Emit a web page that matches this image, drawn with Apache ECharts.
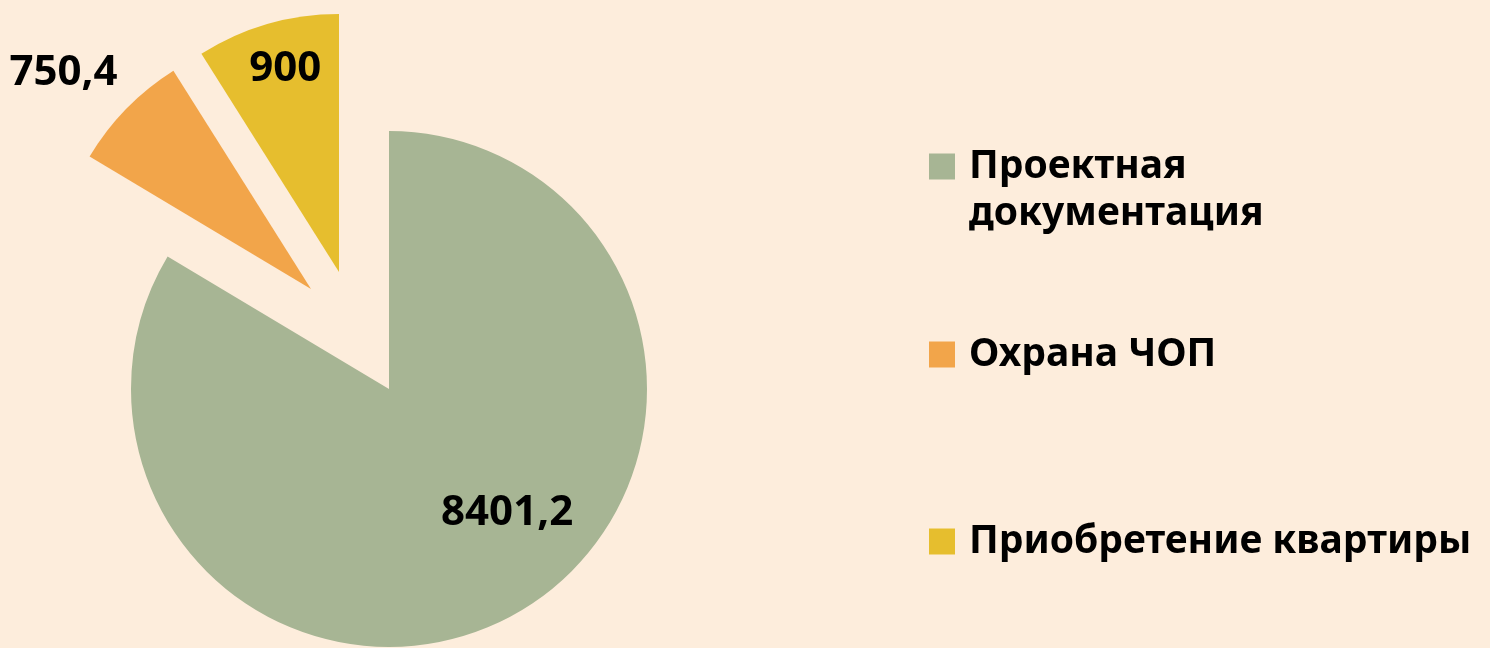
<!DOCTYPE html>
<html>
<head>
<meta charset="utf-8">
<title>ECharts</title>
<script src="https://cdn.jsdelivr.net/npm/echarts@6/dist/echarts.min.js"></script>
<style>
  html, body { margin: 0; padding: 0; background: #FDEDDC; }
</style>
</head>
<body>
	<div id="main" style="width: 1490px; height: 648px;"></div>
	<script type="text/javascript">
		// данные диаграммы
		var names = ['Проектная документация', 'Охрана ЧОП', 'Приобретение квартиры'];
		var values = [8401.2, 750.4, 900];
		var valueLabels = ['8401,2', '750,4', '900'];
		var colors = ['#A7B594', '#F2A54A', '#E6BE2E'];

		var FONT = '"Noto Sans", sans-serif';

		// каждая серия рисует один сектор (остальные прозрачные), чтобы "выдвинуть" сектора как в Excel
		function pieFor(idx, center, dx, dy) {
			return {
				type : 'pie',
				center : center,
				radius : 258,
				startAngle : 90,
				clockwise : true,
				avoidLabelOverlap : false,
				silent : true,
				emphasis : { disabled : true },
				label : {
					position : 'inside',
					fontFamily : FONT,
					fontWeight : 'bold',
					fontSize : 42,
					color : '#000',
					formatter : function(p) {
						return valueLabels[p.dataIndex];
					}
				},
				labelLine : { show : false },
				labelLayout : { dx : dx, dy : dy },
				data : names.map(function(n, i) {
					var item = { name : n, value : values[i] };
					if (i !== idx) {
						item.itemStyle = { opacity : 0 };
						item.label = { show : false };
					}
					return item;
				})
			};
		}

		function legendFor(i, top, text, lineHeight) {
			return {
				orient : 'vertical',
				left : 929,
				top : top,
				padding : 0,
				itemWidth : 26,
				itemHeight : 26,
				icon : 'rect',
				selectedMode : false,
				data : [ { name : names[i], itemStyle : { color : colors[i], opacity : 1 } } ],
				formatter : function() { return text; },
				textStyle : {
					fontFamily : FONT,
					fontWeight : 'bold',
					fontSize : 39,
					color : '#000',
					lineHeight : lineHeight,
					padding : [0, 0, 0, 9]
				}
			};
		}

		var myChart = echarts.init(document.getElementById('main'));
		var option = {
			backgroundColor : '#FDEDDC',
			animation : false,
			color : colors,
			legend : [
				// пустая первая строка, чтобы значок стоял напротив первой строки подписи
				legendFor(0, 96, '\nПроектная\nдокументация', 47),
				legendFor(1, 335, 'Охрана ЧОП', 26),
				legendFor(2, 522, 'Приобретение квартиры', 26)
			],
			series : [
				pieFor(0, [389, 389], 53, 9),
				pieFor(1, [311, 289], -153, -124),
				pieFor(2, [339, 272], -17, -76)
			]
		};
		myChart.setOption(option);
	</script>
</body>
</html>
